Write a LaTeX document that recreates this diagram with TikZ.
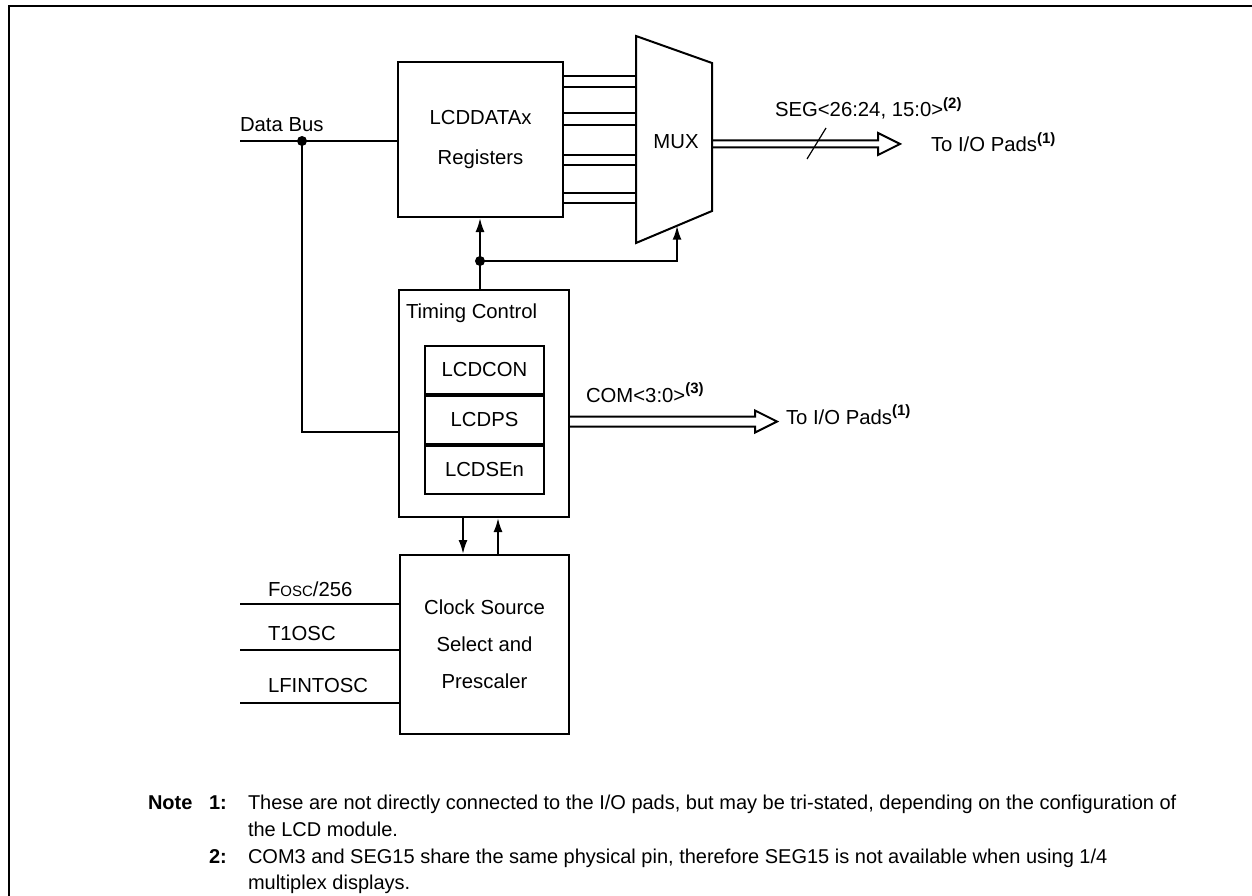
\documentclass[tikz,border=0pt]{standalone}
\usepackage{fontspec}
\setmainfont{Liberation Sans}
\usetikzlibrary{arrows.meta,calc}
\newcommand{\supref}[1]{\raisebox{0.42em}{\fontsize{15}{15}\selectfont\bfseries(#1)}}
\begin{document}
\begin{tikzpicture}[x=1pt,y=-1pt, line width=2pt, line join=miter,
  txt/.style={font=\fontsize{20.3}{24}\selectfont},
  box/.style={draw, line width=2pt, inner sep=0, anchor=north west, txt, align=center},
  lbl/.style={inner sep=0, anchor=base west, txt},
  arr/.style={-{Latex[length=14pt,width=9pt]}},
  dot/.style={circle, fill, inner sep=0, minimum size=10pt},
]
\useasboundingbox (0,0) rectangle (1252,896);
% frame (top and left edges only)
\draw (9,896) -- (9,6) -- (1252,6);

% blocks
\node[box, minimum width=165pt, minimum height=155pt] (reg) at (397,61) {LCDDATAx\\[16pt]Registers};
\node[box, minimum width=170pt, minimum height=227pt] (timing) at (398,289) {};
\node[lbl] (tclabel) at (405,318) {Timing Control};
\node[box, minimum width=119pt, minimum height=48pt] (lcdcon) at (424,345) {LCDCON};
\node[box, minimum width=119pt, minimum height=48pt] (lcdps) at (lcdcon.south west) {LCDPS};
\node[box, minimum width=119pt, minimum height=48pt] (lcdsen) at (lcdps.south west) {LCDSEn};
\node[box, minimum width=169pt, minimum height=179pt] (clock) at (399,554) {Clock Source\\[13pt]Select and\\[13pt]Prescaler};

% MUX
\coordinate (muxTL) at (636,36);
\coordinate (muxTR) at (712,63);
\coordinate (muxBR) at (712,211);
\coordinate (muxBL) at (636,243);
\draw (muxTL) -- (muxTR) -- (muxBR) -- (muxBL) -- cycle;
\node[txt, inner sep=0] (mux) at (676,142) {MUX};

% register to mux lines
\foreach \y in {76,87,113,125,155,165,193,203}
  \draw (reg.east |- 0,\y) -- (muxTL |- 0,\y);

% data bus
\coordinate (dbL) at (240,141);
\node[dot] (dbdot) at (302,141) {};
\coordinate (dbcorner) at (302,432);
\draw (dbL) -- (dbL -| reg.west);
\draw (dbdot.center) -- (dbcorner) -- (dbcorner -| timing.west);
\node[lbl] (dblabel) at (239,132) {Data Bus};

% timing control to registers and mux
\node[dot] (tdot) at (480,261) {};
\coordinate (muxin) at ($(muxBL)!0.54!(muxBR)$);
\draw (tdot.center |- timing.north) -- (tdot.center);
\draw[arr] (tdot.center) -- (tdot.center |- reg.south);
\draw[arr] (tdot.center) -| (muxin);

% timing <-> clock
\draw[arr] ([xshift=-21pt]timing.south) -- ([xshift=-21pt]timing.south |- clock.north);
\draw[arr] ([xshift=14pt]timing.south |- clock.north) -- ([xshift=14pt]timing.south);

% clock inputs
\coordinate (in1) at (240,604);
\coordinate (in2) at (240,650);
\coordinate (in3) at (240,703);
\draw (in1) -- (in1 -| clock.west);
\draw (in2) -- (in2 -| clock.west);
\draw (in3) -- (in3 -| clock.west);
\node[lbl] (l1) at (267,596) {F{\fontsize{15}{18}\selectfont OSC}/256};
\node[lbl] (l2) at (267,640) {T1OSC};
\node[lbl] (l3) at (267,692) {LFINTOSC};

% SEG bus
\coordinate (segS) at (muxBR |- 0,144);
\coordinate (segE) at (900,144);
\draw ([yshift=3.5pt]segS) -- ([xshift=-22pt,yshift=3.5pt]segE) -- ([xshift=-22pt,yshift=11pt]segE)
  -- (segE) -- ([xshift=-22pt,yshift=-11pt]segE) -- ([xshift=-22pt,yshift=-3.5pt]segE) -- ([yshift=-3.5pt]segS);
\draw[line width=1.2pt] (807,159) -- (826,128);
\node[lbl] (seglabel) at (774,117) {SEG<26:24, 15:0>\supref{2}};
\node[lbl] (segpads) at (930,152) {To I/O Pads\supref{1}};

% COM bus
\coordinate (comS) at (timing.east |- 0,421.5);
\coordinate (comE) at (777,421.5);
\draw ([yshift=5pt]comS) -- ([xshift=-22pt,yshift=5pt]comE) -- ([xshift=-22pt,yshift=11pt]comE)
  -- (comE) -- ([xshift=-22pt,yshift=-11pt]comE) -- ([xshift=-22pt,yshift=-5pt]comE) -- ([yshift=-5pt]comS);
\node[lbl] (comlabel) at (585,402) {COM<3:0>\supref{3}};
\node[lbl] (compads) at (785,424) {To I/O Pads\supref{1}};

% notes
\node[lbl, font=\fontsize{20}{24}\selectfont\bfseries] (note) at (147,809) {Note};
\node[lbl, font=\fontsize{20}{24}\selectfont\bfseries] (n1) at (208,809) {1:};
\node[lbl, font=\fontsize{20}{24}\selectfont] (n1a) at (247,809) {These are not directly connected to the I/O pads, but may be tri-stated, depending on the configuration of};
\node[lbl, font=\fontsize{20}{24}\selectfont] (n1b) at (247,836) {the LCD module.};
\node[lbl, font=\fontsize{20}{24}\selectfont\bfseries] (n2) at (208,863) {2:};
\node[lbl, font=\fontsize{20}{24}\selectfont] (n2a) at (247,863) {COM3 and SEG15 share the same physical pin, therefore SEG15 is not available when using 1/4};
\node[lbl, font=\fontsize{20}{24}\selectfont] (n2b) at (247,889) {multiplex displays.};
\end{tikzpicture}
\end{document}
